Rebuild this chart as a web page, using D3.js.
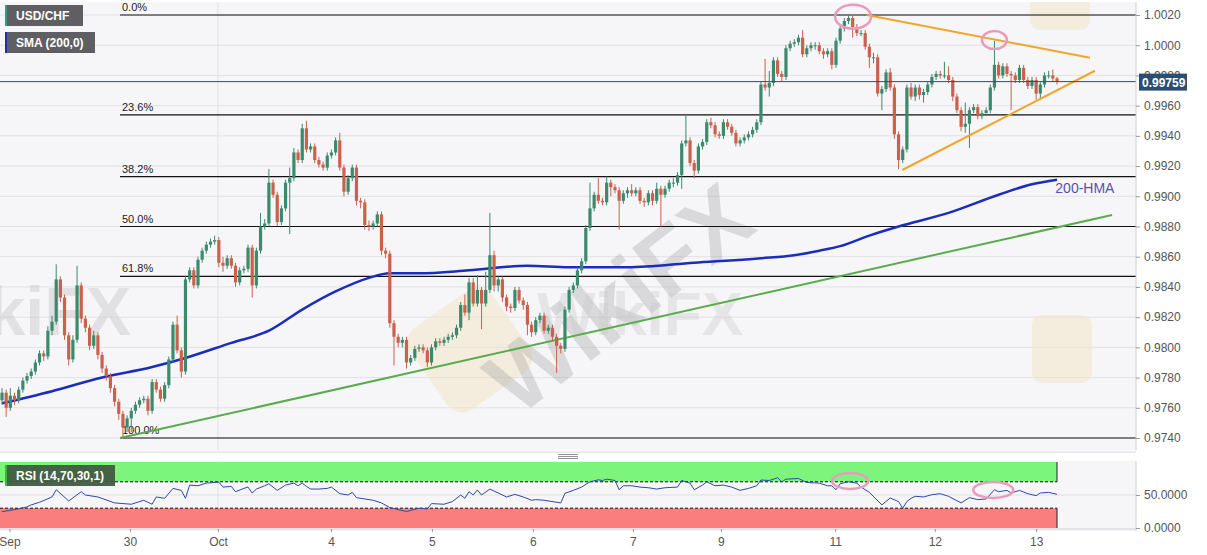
<!DOCTYPE html>
<html>
<head>
<meta charset="utf-8">
<script src="https://cdn.jsdelivr.net/npm/d3@7"></script>
<style>
body { margin: 0; background: #fff; font-family: "Liberation Sans", Arial, sans-serif; }
</style>
</head>
<body>
<div id="container"></div>
<script>
// hourly USD/CHF candles (open of each candle = previous close)
var firstOpen = 0.9765;
var closes = [
0.9770,0.9760,0.9768,0.9765,0.9772,0.9778,0.9781,0.9784,0.9790,0.9796,
0.9794,0.9811,0.9817,0.9845,0.9833,0.9808,0.9792,0.9805,0.9841,0.9819,
0.9813,0.9801,0.9808,0.9795,0.9786,0.9781,0.9773,0.9764,0.9756,0.9747,
0.9753,0.9758,0.9762,0.9765,0.9766,0.9758,0.9777,0.9772,0.9766,0.9775,
0.9792,0.9815,0.9798,0.9784,0.9845,0.9851,0.9841,0.9858,0.9864,0.9868,
0.9870,0.9871,0.9856,0.9854,0.9859,0.9854,0.9843,0.9851,0.9852,0.9866,
0.9841,0.9864,0.9880,0.9882,0.9909,0.9901,0.9883,0.9892,0.9909,0.9912,
0.9929,0.9924,0.9945,0.9931,0.9933,0.9924,0.9921,0.9919,0.9927,0.9929,
0.9937,0.9919,0.9903,0.9912,0.9919,0.9897,0.9896,0.9881,0.9880,0.9882,
0.9888,0.9864,0.9862,0.9816,0.9807,0.9803,0.9805,0.9790,0.9793,0.9799,
0.9800,0.9798,0.9790,0.9800,0.9804,0.9803,0.9805,0.9807,0.9808,0.9813,
0.9828,0.9823,0.9843,0.9829,0.9838,0.9829,0.9838,0.9861,0.9841,0.9845,
0.9833,0.9827,0.9826,0.9838,0.9831,0.9828,0.9815,0.9810,0.9818,0.9821,
0.9811,0.9813,0.9807,0.9801,0.9799,0.9825,0.9838,0.9841,0.9851,0.9857,
0.9879,0.9892,0.9901,0.9897,0.9896,0.9909,0.9906,0.9904,0.9897,0.9902,
0.9904,0.9902,0.9904,0.9897,0.9896,0.9902,0.9897,0.9905,0.9901,0.9905,
0.9909,0.9909,0.9914,0.9935,0.9937,0.9922,0.9917,0.9933,0.9936,0.9949,
0.9947,0.9941,0.9940,0.9949,0.9946,0.9942,0.9935,0.9937,0.9939,0.9941,
0.9944,0.9949,0.9974,0.9972,0.9975,0.9990,0.9981,0.9979,0.9998,1.0001,
1.0002,1.0005,0.9994,0.9998,1.0000,1.0000,0.9996,0.9994,0.9996,0.9987,
1.0003,1.0011,1.0016,1.0018,1.0012,1.0008,1.0008,0.9999,0.9992,0.9992,
0.9968,0.9971,0.9982,0.9972,0.9941,0.9924,0.9931,0.9972,0.9966,0.9972,
0.9967,0.9969,0.9974,0.9979,0.9981,0.9980,0.9980,0.9977,0.9966,0.9957,
0.9946,0.9948,0.9957,0.9959,0.9953,0.9955,0.9957,0.9972,0.9987,0.9980,
0.9986,0.9981,0.9980,0.9977,0.9985,0.9977,0.9973,0.9977,0.9968,0.9974,
0.9980,0.9980,0.9978,0.99759];
var highs = [
0.9773,0.9772,0.9773,0.9770,0.9774,0.9780,0.9783,0.9786,0.9792,0.9798,
0.9798,0.9814,0.9821,0.9855,0.9847,0.9835,0.9810,0.9808,0.9854,0.9843,
0.9821,0.9815,0.9811,0.9810,0.9797,0.9788,0.9783,0.9775,0.9766,0.9758,
0.9755,0.9760,0.9764,0.9767,0.9768,0.9768,0.9779,0.9779,0.9774,0.9777,
0.9794,0.9817,0.9821,0.9800,0.9847,0.9853,0.9853,0.9860,0.9866,0.9870,
0.9872,0.9874,0.9873,0.9860,0.9861,0.9861,0.9856,0.9853,0.9854,0.9868,
0.9868,0.9866,0.9889,0.9885,0.9918,0.9911,0.9903,0.9894,0.9911,0.9919,
0.9932,0.9931,0.9948,0.9950,0.9935,0.9935,0.9926,0.9923,0.9929,0.9931,
0.9939,0.9942,0.9921,0.9914,0.9921,0.9921,0.9899,0.9898,0.9884,0.9884,
0.9890,0.9890,0.9866,0.9864,0.9818,0.9809,0.9807,0.9807,0.9795,0.9801,
0.9802,0.9802,0.9800,0.9802,0.9806,0.9806,0.9807,0.9809,0.9810,0.9815,
0.9830,0.9835,0.9846,0.9846,0.9848,0.9840,0.9850,0.9889,0.9864,0.9847,
0.9847,0.9835,0.9829,0.9840,0.9840,0.9833,0.9830,0.9817,0.9820,0.9823,
0.9823,0.9815,0.9815,0.9809,0.9803,0.9827,0.9840,0.9843,0.9853,0.9859,
0.9881,0.9909,0.9903,0.9912,0.9899,0.9913,0.9911,0.9908,0.9906,0.9904,
0.9906,0.9908,0.9906,0.9906,0.9899,0.9904,0.9904,0.9909,0.9907,0.9907,
0.9911,0.9912,0.9916,0.9937,0.9954,0.9939,0.9924,0.9935,0.9938,0.9951,
0.9952,0.9949,0.9943,0.9951,0.9951,0.9948,0.9944,0.9939,0.9941,0.9943,
0.9946,0.9951,0.9976,0.9991,0.9983,0.9992,0.9992,0.9983,1.0000,1.0003,
1.0004,1.0007,1.0010,1.0000,1.0002,1.0002,1.0002,0.9998,0.9998,0.9998,
1.0005,1.0013,1.0018,1.0020,1.0020,1.0014,1.0010,1.0010,1.0001,0.9995,
0.9994,0.9973,0.9984,0.9985,0.9974,0.9943,0.9933,0.9974,0.9975,0.9974,
0.9974,0.9971,0.9976,0.9981,0.9983,0.9983,0.9989,0.9986,0.9979,0.9968,
0.9959,0.9962,0.9959,0.9961,0.9961,0.9957,0.9959,0.9974,1.0003,0.9989,
0.9988,0.9988,0.9983,0.9982,0.9987,0.9987,0.9979,0.9979,0.9979,0.9976,
0.9982,0.9983,0.9984,0.9979];
var lows = [
0.9762,0.9754,0.9758,0.9762,0.9763,0.9770,0.9776,0.9779,0.9782,0.9788,
0.9791,0.9792,0.9808,0.9815,0.9830,0.9805,0.9788,0.9790,0.9803,0.9816,
0.9810,0.9798,0.9799,0.9792,0.9783,0.9778,0.9770,0.9761,0.9752,0.9740,
0.9744,0.9744,0.9756,0.9760,0.9763,0.9755,0.9756,0.9770,0.9764,0.9764,
0.9773,0.9790,0.9796,0.9780,0.9782,0.9843,0.9839,0.9839,0.9856,0.9862,
0.9866,0.9868,0.9853,0.9850,0.9852,0.9852,0.9840,0.9841,0.9849,0.9850,
0.9833,0.9839,0.9862,0.9878,0.9880,0.9899,0.9880,0.9881,0.9890,0.9875,
0.9910,0.9922,0.9922,0.9929,0.9929,0.9922,0.9919,0.9917,0.9917,0.9925,
0.9927,0.9917,0.9900,0.9901,0.9910,0.9894,0.9892,0.9878,0.9877,0.9878,
0.9880,0.9861,0.9859,0.9813,0.9788,0.9800,0.9800,0.9786,0.9788,0.9791,
0.9797,0.9796,0.9787,0.9788,0.9798,0.9801,0.9801,0.9803,0.9805,0.9806,
0.9811,0.9821,0.9818,0.9827,0.9827,0.9812,0.9827,0.9836,0.9837,0.9837,
0.9830,0.9824,0.9823,0.9824,0.9829,0.9825,0.9808,0.9807,0.9808,0.9816,
0.9809,0.9809,0.9804,0.9783,0.9796,0.9797,0.9823,0.9836,0.9839,0.9849,
0.9855,0.9877,0.9890,0.9895,0.9894,0.9894,0.9900,0.9902,0.9878,0.9895,
0.9899,0.9900,0.9900,0.9895,0.9893,0.9894,0.9894,0.9895,0.9880,0.9899,
0.9903,0.9906,0.9907,0.9905,0.9933,0.9920,0.9912,0.9915,0.9931,0.9934,
0.9945,0.9939,0.9938,0.9938,0.9944,0.9940,0.9933,0.9933,0.9935,0.9937,
0.9939,0.9942,0.9947,0.9970,0.9966,0.9973,0.9979,0.9976,0.9977,0.9996,
0.9999,1.0000,0.9992,0.9992,0.9996,0.9997,0.9994,0.9991,0.9992,0.9984,
0.9985,1.0001,1.0009,1.0014,1.0005,1.0006,1.0006,0.9997,0.9985,0.9988,
0.9966,0.9957,0.9969,0.9970,0.9938,0.9918,0.9922,0.9929,0.9964,0.9963,
0.9964,0.9962,0.9967,0.9972,0.9977,0.9978,0.9978,0.9975,0.9963,0.9955,
0.9943,0.9942,0.9932,0.9955,0.9951,0.9951,0.9955,0.9955,0.9970,0.9978,
0.9978,0.9979,0.9957,0.9975,0.9975,0.9975,0.9971,0.9971,0.9964,0.9965,
0.9972,0.9978,0.9976,0.9974];

// 200 SMA ("200-HMA"), read at a set of candle indices
var smaAt  = [0,12,24,36,44,55,64,72,80,88,93,100,112,126,136,150,166,182,190,196,201,208,215,227,239,247,253];
var smaVal = [0.9763,0.9771,0.9780,0.9787,0.9793,0.9803,0.9811,0.9825,0.9837,0.9846,0.9849,0.9849,0.9851,0.9854,0.9853,0.9853,0.9856,0.9859,0.9861,0.9864,0.9867,0.9874,0.9880,0.9889,0.9901,0.9908,0.9911];

// RSI(14) read at candle indices
var rsiAt = [0,4,6,7,9,12,13,16,19,20,23,27,31,34,36,37,39,41,43,44,45,47,49,52,53,55,56,58,59,60,
61,63,64,66,68,70,71,72,73,74,76,78,79,81,83,84,85,88,89,91,93,95,97,100,102,103,106,108,110,111,
112,113,114,115,117,119,121,123,125,127,128,130,134,135,137,139,141,143,144,145,147,148,149,151,153,155,157,159,162,163,
165,166,168,169,171,173,175,177,179,181,182,184,186,187,188,191,193,196,198,199,200,201,203,205,206,208,211,213,215,216,
217,218,219,221,223,225,227,230,232,234,236,238,239,241,242,244,246,248,249,251,253];
var rsiVal = [24.7,29,32,35,39,47,58,41,55,50,47,38,36,42,36,47,45,60,57,45,65,64,68,69.5,62,63,55,60,62,53,
59,64,67,57,65,68,64,68,63,59,59,60,62,52,50,54,46,43,42,38,31,28,25,30,29,37,36,40,50,45,
55,50,57.6,50,59,53,47,51,47,42,43,42,38,52.5,57,62,70,73,72,74,72,58,64,64,62,61,59,61,62,72,
68,58,65,70,64,65,62,57,60,64,72.7,72,76,70,74,75,69,68,64,64,58,67,70,68,62,54,35,45.5,40,30,
40,45,48,47,50.5,52,48,38,46,43,44,58,55,57,53,57,52,49,53,54,51];

var xTickAt = [1.8, 30.7, 51.8, 78.9, 103.1, 127.3, 151.3, 172.4, 199.8, 223.7, 248];
var xTickLabels = ["Sep", "30", "Oct", "4", "5", "6", "7", "9", "11", "12", "13"];
var yTicks = [0.9740,0.9760,0.9780,0.9800,0.9820,0.9840,0.9860,0.9880,0.9900,0.9920,0.9940,0.9960,0.9980,1.0000,1.0020];
var rsiTicks = [0, 50];

// Fibonacci retracement
var fibHigh = 1.0020, fibLow = 0.9740, fibStart = 28.3;
var fibLevels = [0, 0.236, 0.382, 0.5, 0.618, 1];
var fibLabels = ["0.0%", "23.6%", "38.2%", "50.0%", "61.8%", "100.0%"];

// drawn trend lines: [index, price]
var greenLine = [[28.3, 0.9740], [266.2, 0.98876]];
var upperLine = [[207.4, 1.0020], [260.9, 0.99917]];
var lowerLine = [[215.9, 0.99174], [262.1, 0.99831]];
var priceCircles = [[204.1, 1.00189], [238, 1.00034]];
var rsiCircles = [[203.4, 71.2], [237.7, 57.6]];
var lastPrice = 0.99759;

var width = 1207, height = 555;
var plotRight = 1136;
var mainTop = 2, mainBottom = 450, rsiTop = 461, rsiBottom = 531;

var svg = d3.select("#container").append("svg")
    .attr("width", width)
    .attr("height", height)
    .style("display", "block");

var x = d3.scaleLinear().domain([0, 272]).range([2, 2 + 4.17 * 272]);
var y = d3.scaleLinear().domain([fibLow, fibHigh]).range([438, 15]);
var ry = d3.scaleLinear().domain([0, 100]).range([528, 462]);

// panels
svg.append("rect").attr("x", 0).attr("y", mainTop).attr("width", plotRight).attr("height", mainBottom - mainTop).attr("fill", "#f6f6f9");
svg.append("rect").attr("x", 0).attr("y", rsiTop).attr("width", plotRight).attr("height", rsiBottom - rsiTop).attr("fill", "#f6f6f9");

svg.append("defs").append("clipPath").attr("id", "clipMain")
    .append("rect").attr("x", 0).attr("y", mainTop).attr("width", plotRight).attr("height", mainBottom - mainTop);

// gridlines
svg.append("g").selectAll("line").data(yTicks).enter().append("line")
    .attr("x1", 0).attr("x2", plotRight)
    .attr("y1", function(d) { return y(d); }).attr("y2", function(d) { return y(d); })
    .attr("stroke", "#e2e2e6").attr("stroke-width", 1);
svg.append("line").attr("x1", x(xTickAt[2])).attr("x2", x(xTickAt[2]))
    .attr("y1", mainTop).attr("y2", mainBottom).attr("stroke", "#e2e2e6");
svg.append("line").attr("x1", x(xTickAt[2])).attr("x2", x(xTickAt[2]))
    .attr("y1", rsiTop).attr("y2", rsiBottom).attr("stroke", "#e2e2e6");

// watermark
var wm = svg.append("g").attr("clip-path", "url(#clipMain)");
wm.append("rect").attr("x", 420).attr("y", 300).attr("width", 100).attr("height", 100).attr("rx", 18)
    .attr("transform", "rotate(-35 470 350)").attr("fill", "#f2e2bd").attr("opacity", 0.45);
wm.append("rect").attr("x", 1032).attr("y", 315).attr("width", 60).attr("height", 68).attr("rx", 10)
    .attr("fill", "#f2e2bd").attr("opacity", 0.45);
wm.append("rect").attr("x", 1030).attr("y", -20).attr("width", 60).attr("height", 50).attr("rx", 10)
    .attr("fill", "#f2e2bd").attr("opacity", 0.45);
wm.append("text").attr("x", 620).attr("y", 330).attr("text-anchor", "middle")
    .attr("transform", "rotate(-38 620 300)")
    .style("font", "bold 92px 'Liberation Sans', Arial").attr("fill", "#9a9a9a").attr("opacity", 0.3).text("WikiFX");
wm.append("text").attr("x", 640).attr("y", 335).attr("text-anchor", "middle")
    .style("font", "bold 62px 'Liberation Sans', Arial").attr("fill", "#c8c8c8").attr("opacity", 0.35).text("WikiFX");
wm.append("text").attr("x", -95).attr("y", 335)
    .style("font", "bold 68px 'Liberation Sans', Arial").attr("fill", "#bdbdbd").attr("opacity", 0.35).text("WikiFX");

// fibonacci levels
var fib = svg.append("g");
fibLevels.forEach(function(r, k) {
    var p = fibHigh - r * (fibHigh - fibLow);
    fib.append("line").attr("x1", x(fibStart)).attr("x2", plotRight)
        .attr("y1", y(p)).attr("y2", y(p)).attr("stroke", "#111").attr("stroke-width", 1.2);
    fib.append("text").attr("x", x(fibStart) + 2).attr("y", y(p) - 4)
        .style("font", "11px 'Liberation Sans', Arial").attr("fill", "#222").text(fibLabels[k]);
});

var main = svg.append("g").attr("clip-path", "url(#clipMain)");

// SMA
var smaPts = smaAt.map(function(d, k) { return [d, smaVal[k]]; });
main.append("path").datum(smaPts)
    .attr("d", d3.line().x(function(d) { return x(d[0]); }).y(function(d) { return y(d[1]); }).curve(d3.curveMonotoneX))
    .attr("fill", "none").attr("stroke", "#1a2dbd").attr("stroke-width", 2.5);

// green trend line
var seg = d3.line().x(function(d) { return x(d[0]); }).y(function(d) { return y(d[1]); });
main.append("path").datum(greenLine).attr("d", seg).attr("stroke", "#5aab4c").attr("stroke-width", 2).attr("fill", "none");

// candles
var candles = closes.map(function(c, i) {
    return { i: i, o: i === 0 ? firstOpen : closes[i - 1], c: c, h: highs[i], l: lows[i] };
});
var cg = main.append("g").selectAll("g").data(candles).enter().append("g");
cg.append("line")
    .attr("x1", function(d) { return x(d.i); }).attr("x2", function(d) { return x(d.i); })
    .attr("y1", function(d) { return y(Math.max(d.h, d.o, d.c)); })
    .attr("y2", function(d) { return y(Math.min(d.l, d.o, d.c)); })
    .attr("stroke", function(d) { return d.c >= d.o ? "#3b8a6c" : "#c9614b"; })
    .attr("stroke-width", 1);
cg.append("rect")
    .attr("x", function(d) { return x(d.i) - 1.6; })
    .attr("width", 3.2)
    .attr("y", function(d) { return y(Math.max(d.o, d.c)); })
    .attr("height", function(d) { return Math.max(1, Math.abs(y(d.o) - y(d.c))); })
    .attr("fill", function(d) { return d.c >= d.o ? "#3b8a6c" : "#c9614b"; });

// triangle lines
main.append("path").datum(upperLine).attr("d", seg).attr("stroke", "#f2a52a").attr("stroke-width", 2).attr("fill", "none");
main.append("path").datum(lowerLine).attr("d", seg).attr("stroke", "#f2a52a").attr("stroke-width", 2).attr("fill", "none");

// circled highs
main.selectAll("ellipse.p").data(priceCircles).enter().append("ellipse")
    .attr("cx", function(d) { return x(d[0]); }).attr("cy", function(d) { return y(d[1]); })
    .attr("rx", function(d, k) { return k === 0 ? 18 : 12.5; })
    .attr("ry", function(d, k) { return k === 0 ? 12 : 9; })
    .attr("fill", "none").attr("stroke", "#e99bbb").attr("stroke-width", 2.5);

// current price line
svg.append("line").attr("x1", 0).attr("x2", plotRight)
    .attr("y1", y(lastPrice)).attr("y2", y(lastPrice))
    .attr("stroke", "#2f4c6c").attr("stroke-width", 1);

svg.append("text").attr("x", x(252.6)).attr("y", y(0.9911) + 13)
    .style("font", "14px 'Liberation Sans', Arial").attr("fill", "#5a4fb5").text("200-HMA");

// legends
function legend(yTop, w, label, bar) {
    svg.append("rect").attr("x", 5).attr("y", yTop).attr("width", w).attr("height", 21).attr("fill", "#5f5f63");
    svg.append("rect").attr("x", 5).attr("y", yTop).attr("width", 2).attr("height", 21).attr("fill", bar);
    svg.append("text").attr("x", 16).attr("y", yTop + 15)
        .style("font", "bold 12px 'Liberation Sans', Arial").attr("fill", "#fff").text(label);
}
legend(5, 78, "USD/CHF", "#3c9a7c");
legend(32, 90, "SMA (200,0)", "#1e2fa8");

// right axis (main)
svg.append("line").attr("x1", plotRight).attr("x2", plotRight).attr("y1", mainTop).attr("y2", mainBottom).attr("stroke", "#cfcfd4");
var yAxis = svg.append("g").attr("transform", "translate(" + plotRight + ",0)")
    .call(d3.axisRight(y).tickValues(yTicks).tickFormat(d3.format(".4f")).tickSize(4).tickPadding(4));
yAxis.select(".domain").remove();
yAxis.selectAll("line").attr("stroke", "#999");
yAxis.selectAll("text").style("font", "12px 'Liberation Sans', Arial").attr("fill", "#555");

// last price tag
svg.append("rect").attr("x", plotRight + 3).attr("y", y(lastPrice) - 8).attr("width", 48).attr("height", 17)
    .attr("fill", "#2c4d70");
svg.append("text").attr("x", plotRight + 6).attr("y", y(lastPrice) + 5)
    .style("font", "bold 12px 'Liberation Sans', Arial").attr("fill", "#fff").text(d3.format(".5f")(lastPrice));

// panel separator
svg.append("line").attr("x1", 0).attr("x2", plotRight).attr("y1", 452).attr("y2", 452).attr("stroke", "#d8d8dc");
[454.5, 456.5, 458.5].forEach(function(v) {
    svg.append("line").attr("x1", 558).attr("x2", 578).attr("y1", v).attr("y2", v).attr("stroke", "#777").attr("stroke-width", 0.8);
});

// RSI panel
var rsiEnd = x(closes.length - 1);
svg.append("line").attr("x1", 0).attr("x2", plotRight).attr("y1", ry(50)).attr("y2", ry(50)).attr("stroke", "#e0e0e4");
svg.append("rect").attr("x", 0).attr("y", ry(100)).attr("width", rsiEnd).attr("height", ry(70) - ry(100)).attr("fill", "#7df57d");
svg.append("rect").attr("x", 0).attr("y", ry(30)).attr("width", rsiEnd).attr("height", ry(0) - ry(30)).attr("fill", "#fa7e7e");
[70, 30].forEach(function(v) {
    svg.append("line").attr("x1", 0).attr("x2", rsiEnd).attr("y1", ry(v)).attr("y2", ry(v))
        .attr("stroke", "#111").attr("stroke-width", 1).attr("stroke-dasharray", "3,2");
});
svg.append("line").attr("x1", rsiEnd).attr("x2", rsiEnd).attr("y1", ry(100)).attr("y2", ry(70)).attr("stroke", "#222");
svg.append("line").attr("x1", rsiEnd).attr("x2", rsiEnd).attr("y1", ry(30)).attr("y2", ry(0)).attr("stroke", "#222");

var rsiPts = rsiAt.map(function(d, k) { return [d, rsiVal[k]]; });
svg.append("path").datum(rsiPts)
    .attr("d", d3.line().x(function(d) { return x(d[0]); }).y(function(d) { return ry(d[1]); }))
    .attr("fill", "none").attr("stroke", "#2d48a8").attr("stroke-width", 1);

svg.selectAll("ellipse.r").data(rsiCircles).enter().append("ellipse")
    .attr("cx", function(d) { return x(d[0]); }).attr("cy", function(d) { return ry(d[1]); })
    .attr("rx", function(d, k) { return k === 0 ? 18 : 20; })
    .attr("ry", 8)
    .attr("fill", "none").attr("stroke", "#e99bbb").attr("stroke-width", 2.5);

svg.append("rect").attr("x", 5).attr("y", 465).attr("width", 110).attr("height", 21).attr("fill", "#435a43").attr("opacity", 0.95);
svg.append("rect").attr("x", 5).attr("y", 465).attr("width", 2).attr("height", 21).attr("fill", "#2fc02f");
svg.append("text").attr("x", 16).attr("y", 480)
    .style("font", "bold 12px 'Liberation Sans', Arial").attr("fill", "#fff").text("RSI (14,70,30,1)");

svg.append("line").attr("x1", plotRight).attr("x2", plotRight).attr("y1", rsiTop).attr("y2", rsiBottom).attr("stroke", "#cfcfd4");
svg.append("line").attr("x1", 0).attr("x2", plotRight).attr("y1", rsiBottom - 2).attr("y2", rsiBottom - 2).attr("stroke", "#cfcfd4");
var rAxis = svg.append("g").attr("transform", "translate(" + plotRight + ",0)")
    .call(d3.axisRight(ry).tickValues(rsiTicks).tickFormat(d3.format(".4f")).tickSize(4).tickPadding(4));
rAxis.select(".domain").remove();
rAxis.selectAll("line").attr("stroke", "#999");
rAxis.selectAll("text").style("font", "12px 'Liberation Sans', Arial").attr("fill", "#555");

// time axis
var xAxis = svg.append("g").attr("transform", "translate(0," + (rsiBottom - 2) + ")")
    .call(d3.axisBottom(x).tickValues(xTickAt).tickFormat(function(d, k) { return xTickLabels[k]; }).tickSize(3).tickPadding(5));
xAxis.select(".domain").remove();
xAxis.selectAll("line").attr("stroke", "#999");
xAxis.selectAll("text").style("font", "12px 'Liberation Sans', Arial").attr("fill", "#555");
</script>
</body>
</html>
